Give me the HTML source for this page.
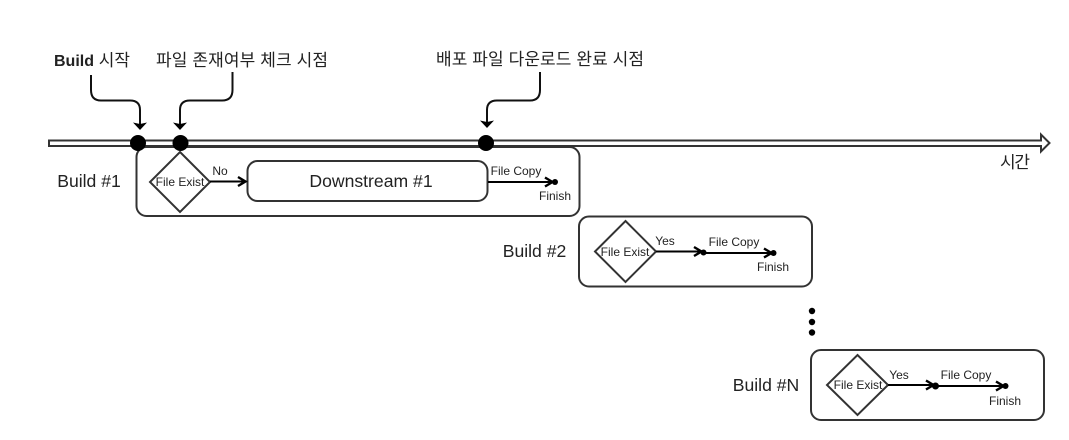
<!DOCTYPE html>
<html><head><meta charset="utf-8"><style>
html,body{margin:0;padding:0;background:#fff;width:1069px;height:440px;overflow:hidden}
svg{display:block}
text{font-family:"Liberation Sans","Noto Sans CJK KR",sans-serif;fill:#222}
.s{font-size:12px;text-anchor:middle}
.b{font-size:17.6px;text-anchor:middle}
.k{font-size:17px}
.box{fill:none;stroke:#333;stroke-width:2}
.dia{fill:#fff;stroke:#333;stroke-width:2}
.ar{fill:none;stroke:#000;stroke-width:2}
.cn{fill:none;stroke:#111;stroke-width:2}
</style></head><body>
<svg width="1069" height="440" viewBox="0 0 1069 440" xmlns="http://www.w3.org/2000/svg">
<defs>
<marker id="o" markerWidth="12" markerHeight="12" refX="10" refY="6" orient="auto" markerUnits="userSpaceOnUse"><path d="M2 1.500L9.500 6L2 10.500" fill="none" stroke="#000" stroke-width="2.400"/></marker>
</defs>
<path d="M49 140.500H1041V134.500L1049.500 143L1041 151.500V146H49Z" fill="#fff" stroke="#333" stroke-width="2"/>
<path class="cn" d="M91 75V90Q91 100.500 101 100.500H130Q140 100.500 140 110V124"/>
<path d="M133 122.500L140 124L147 122.500L140 130Z" fill="#000"/>
<path class="cn" d="M232.500 72V90Q232.500 100.500 222 100.500H190Q180 100.500 180 110V124"/>
<path d="M173 122.500L180 124L187 122.500L180 130Z" fill="#000"/>
<path class="cn" d="M540 72V90Q540 100.500 530 100.500H497Q487 100.500 487 110V122"/>
<path d="M480 120.500L487 122L494 120.500L487 128Z" fill="#000"/>
<rect class="box" x="136.500" y="147" width="443" height="69" rx="10"/>
<rect class="box" x="579" y="216.500" width="233" height="70" rx="10"/>
<rect class="box" x="811" y="350" width="233" height="70" rx="10"/>
<circle cx="138" cy="143" r="8" fill="#000"/>
<circle cx="180.500" cy="143" r="8" fill="#000"/>
<circle cx="486" cy="143" r="8" fill="#000"/>
<path class="dia" d="M180 152L210 182L180 212L150 182Z"/>
<rect class="box" x="247.500" y="161" width="240" height="40" rx="10"/>
<path class="ar" d="M210 181.500H246" marker-end="url(#o)"/>
<path class="ar" d="M488 182H553" marker-end="url(#o)"/>
<circle cx="555" cy="182" r="3" fill="#000"/>
<path class="dia" d="M625.500 221L656 251.500L625.500 282L595 251.500Z"/>
<path class="ar" d="M656 251.500H702" marker-end="url(#o)"/>
<circle cx="703.500" cy="252.500" r="3" fill="#000"/>
<path class="ar" d="M704 253H772" marker-end="url(#o)"/>
<circle cx="773.500" cy="253" r="3" fill="#000"/>
<path class="dia" d="M857.500 355L888 385L857.500 415L827 385Z"/>
<path class="ar" d="M888 385H934" marker-end="url(#o)"/>
<circle cx="935.500" cy="386" r="3.500" fill="#000"/>
<path class="ar" d="M936 386H1004" marker-end="url(#o)"/>
<circle cx="1005.500" cy="386" r="3" fill="#000"/>
<circle cx="812" cy="311" r="3.200" fill="#000"/>
<circle cx="812" cy="322" r="3.200" fill="#000"/>
<circle cx="812" cy="332.500" r="3.200" fill="#000"/>
<text x="54" y="66" class="k"><tspan font-weight="bold" font-size="16">Build</tspan> 시작</text>
<text x="156" y="66" class="k" textLength="172" lengthAdjust="spacing">파일 존재여부 체크 시점</text>
<text x="436" y="65" class="k" textLength="208" lengthAdjust="spacing">배포 파일 다운로드 완료 시점</text>
<text x="1000" y="168" class="k" textLength="30" lengthAdjust="spacing">시간</text>
<text x="89" y="187" class="b">Build #1</text>
<text x="534.500" y="257" class="b">Build #2</text>
<text x="766" y="391" class="b">Build #N</text>
<text x="371" y="187" class="b">Downstream #1</text>
<text x="180" y="186" class="s">File Exist</text>
<text x="625" y="256" class="s">File Exist</text>
<text x="858" y="389" class="s">File Exist</text>
<text x="220" y="175" class="s">No</text>
<text x="665" y="245" class="s">Yes</text>
<text x="899" y="379" class="s">Yes</text>
<text x="516" y="175" class="s">File Copy</text>
<text x="734" y="246" class="s">File Copy</text>
<text x="966" y="379" class="s">File Copy</text>
<text x="555" y="200" class="s">Finish</text>
<text x="773" y="271" class="s">Finish</text>
<text x="1005" y="405" class="s">Finish</text>
</svg>
</body></html>
